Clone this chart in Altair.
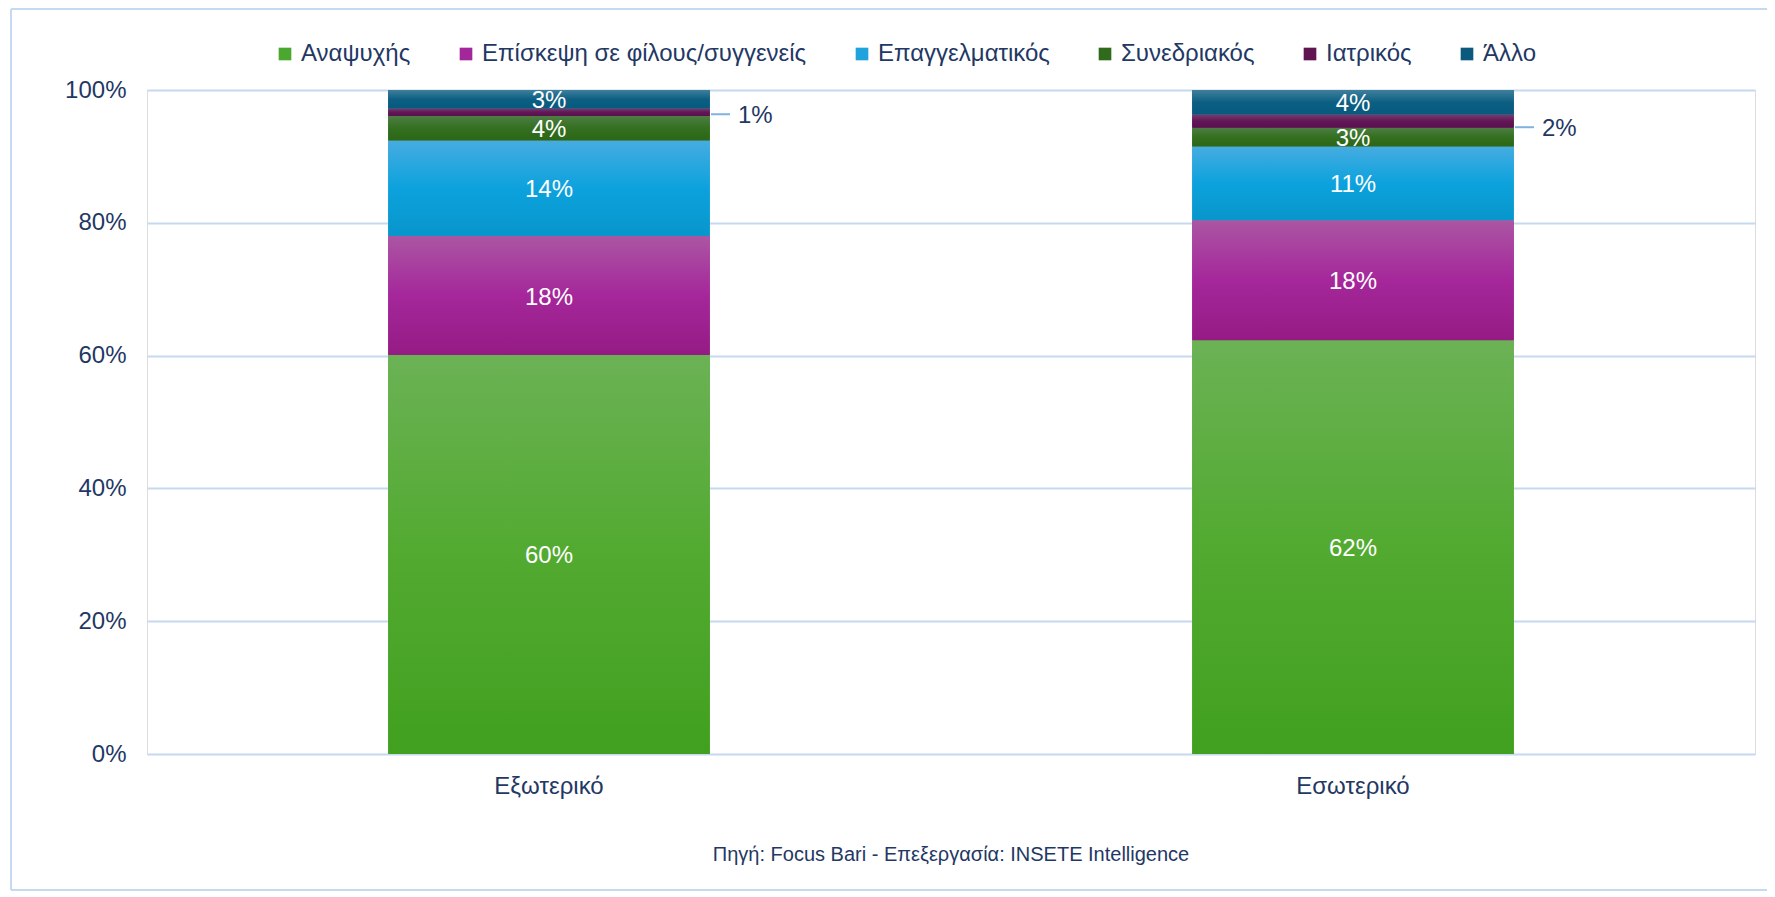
import altair as alt
import pandas as pd

categories = ["Αναψυχής", "Επίσκεψη σε φίλους/συγγενείς", "Επαγγελματικός",
              "Συνεδριακός", "Ιατρικός", "Άλλο"]
groups = ["Εξωτερικό", "Εσωτερικό"]
values_exo = [60.1, 17.9, 14.4, 3.7, 1.1, 2.8]
values_eso = [62.3, 18.1, 11.1, 2.8, 2.0, 3.7]
y_ticks = [0, 20, 40, 60, 80, 100]
source_text = "Πηγή: Focus Bari - Επεξεργασία: INSETE Intelligence"

solid_colors = ["#4aa82e", "#a3269b", "#1fa3dd", "#2f6b1b", "#5f1551", "#0b5a7e"]
gradients = [
    ["#6bb255", "#52aa30", "#41a01f"],
    ["#ab56a3", "#a5279b", "#951b84"],
    ["#46ace1", "#0ca2dd", "#0896cb"],
    ["#4f7d45", "#33701f", "#2c6617"],
    ["#763b6c", "#621656", "#5a104e"],
    ["#3f7f9c", "#0c5f83", "#065a7f"],
]

rows = []
for g, vals in zip(groups, [values_exo, values_eso]):
    cum = 0.0
    for i, (c, v) in enumerate(zip(categories, vals)):
        rows.append({"group": g, "cat": c, "order": i, "value": v,
                     "start": cum, "end": cum + v, "mid": cum + v / 2,
                     "label": f"{round(v)}%"})
        cum += v
df = pd.DataFrame(rows)

navy = "#1f3864"
font = "Liberation Sans"
frame_color = "#c5daf2"

x_enc = alt.X("group:N", sort=groups, title=None,
              scale=alt.Scale(paddingInner=0.6, paddingOuter=0.3),
              axis=alt.Axis(labelAngle=0, labelFontSize=24, labelColor=navy,
                            labelFont=font, labelPadding=20, ticks=False,
                            domain=False, grid=False))
y_enc = alt.Y("start:Q", title=None,
              scale=alt.Scale(domain=[0, 100]),
              axis=alt.Axis(values=y_ticks, labelExpr="datum.value + '%'",
                            labelFontSize=24, labelColor=navy, labelFont=font,
                            labelPadding=21, ticks=False, domain=False,
                            gridColor="#c6d9f0", gridWidth=2))

base = alt.Chart(df)
one = alt.Chart(pd.DataFrame({"a": [0]}))

# outer frame of the chart (decoration): left, top and bottom edges
frame_left = one.mark_rule(color=frame_color, strokeWidth=2).encode(
    x=alt.value(-136), y=alt.value(-81), y2=alt.value(800))
frame_top = one.mark_rule(color=frame_color, strokeWidth=2).encode(
    x=alt.value(-136), x2=alt.value(1640), y=alt.value(-81))
frame_bottom = one.mark_rule(color=frame_color, strokeWidth=2).encode(
    x=alt.value(-136), x2=alt.value(1640), y=alt.value(800))

source = one.mark_text(
    fontSize=20, font=font, color=navy, align="center", baseline="middle",
    text=source_text).encode(x=alt.value(804), y=alt.value(765))

legend_layer = base.mark_bar().encode(
    x=x_enc, y=y_enc, y2="end:Q",
    color=alt.Color("cat:N", sort=categories,
                    scale=alt.Scale(domain=categories, range=solid_colors),
                    legend=alt.Legend(title=None, orient="none", direction="horizontal",
                                      legendX=126, legendY=-48,
                                      symbolType="square", symbolSize=160,
                                      symbolStrokeWidth=0, labelFontSize=24,
                                      labelFont=font, labelColor=navy,
                                      labelOffset=4, columnPadding=43,
                                      labelLimit=600)),
)

layers = [frame_left, frame_top, frame_bottom, legend_layer]
for c, stops in zip(categories, gradients):
    grad = alt.LinearGradient(
        gradient="linear", x1=0, x2=0, y1=0, y2=1,
        stops=[alt.GradientStop(color=stops[0], offset=0),
               alt.GradientStop(color=stops[1], offset=0.5),
               alt.GradientStop(color=stops[2], offset=1)])
    layers.append(
        base.transform_filter(alt.datum.cat == c).mark_bar(color=grad).encode(
            x=x_enc, y="start:Q", y2="end:Q"))

inside = base.transform_filter(alt.datum.cat != "Ιατρικός").mark_text(
    color="white", fontSize=24, font=font, dy=2).encode(
    x=x_enc, y="mid:Q", text="label:N")
layers.append(inside)

for g, ddy in zip(groups, [4, 8]):
    sub = base.transform_filter((alt.datum.cat == "Ιατρικός") & (alt.datum.group == g))
    layers.append(sub.mark_rule(color="#7fb2e0", strokeWidth=2, xOffset=162,
                                x2Offset=181, yOffset=ddy - 2).encode(
        x=x_enc, x2="group:N", y="mid:Q"))
    layers.append(sub.mark_text(color=navy, fontSize=24, font=font, align="left",
                                dx=189, dy=ddy).encode(
        x=x_enc, y="mid:Q", text="label:N"))

layers.append(source)

chart = alt.layer(*layers).properties(
    width=1608, height=664,
    autosize=alt.AutoSizeParams(type="none"),
    padding={"left": 139, "top": 82, "right": 12, "bottom": 139},
).configure_view(strokeWidth=0, stroke="transparent").configure(background="white")

chart.save("out.html", embed_options={"renderer": "svg", "actions": False})
